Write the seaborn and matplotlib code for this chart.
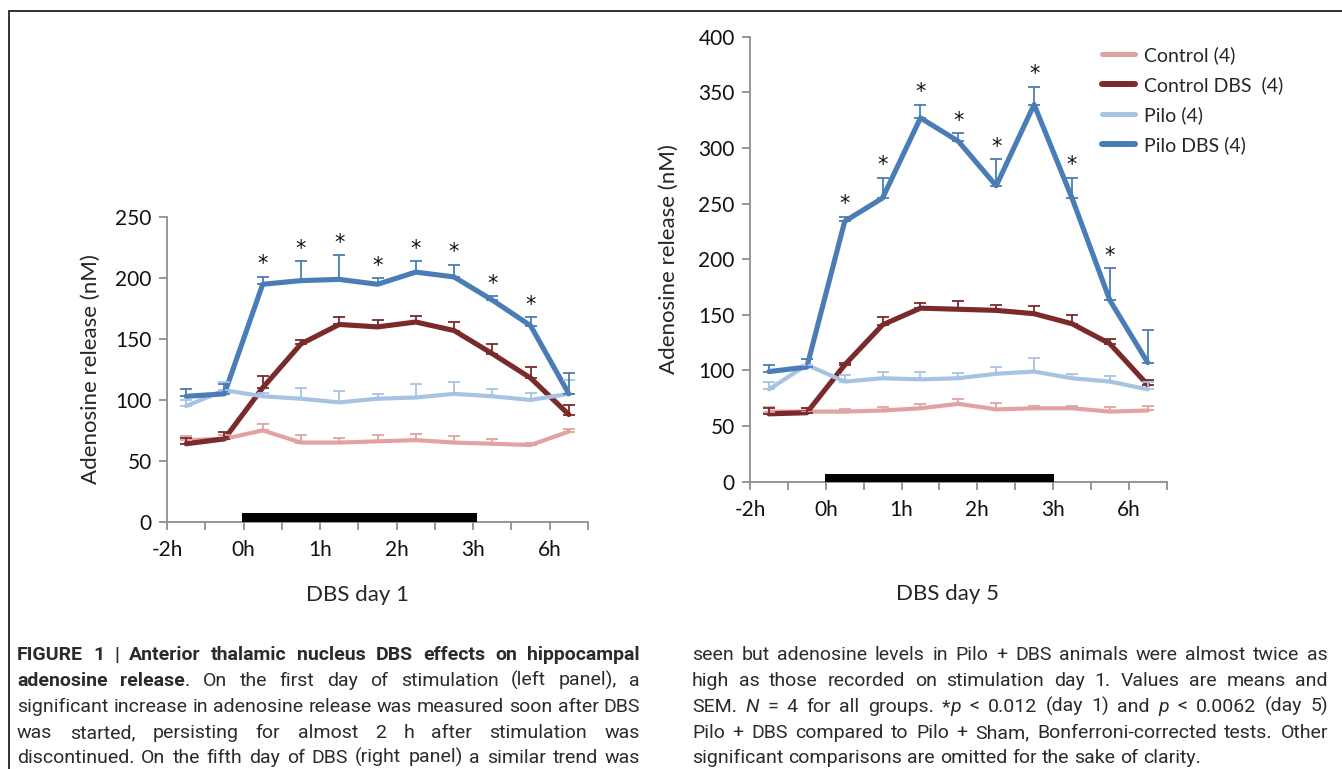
import re
import numpy as np
import pandas as pd
import matplotlib
matplotlib.use("Agg")
import matplotlib.pyplot as plt
from matplotlib.lines import Line2D
import seaborn as sns

# ---- data ----
time_labels = ["-2h", "0h", "1h", "2h", "3h", "6h"]
groups = ["Control (4)", "Control DBS  (4)", "Pilo (4)", "Pilo DBS (4)"]

day1_control = [67, 68, 75, 65, 65, 66, 67, 65, 64, 63, 74]
day1_control_sem = [3, 3, 5, 6, 4, 5, 5, 5, 4, 2, 2]
day1_control_dbs = [64, 68, 110, 146, 162, 160, 164, 157, 138, 118, 88]
day1_control_dbs_sem = [5, 6, 10, 3, 6, 6, 5, 7, 8, 9, 8]
day1_pilo = [95, 108, 103, 101, 98, 101, 102, 105, 103, 100, 105]
day1_pilo_sem = [5, 7, 3, 9, 9, 4, 11, 10, 6, 6, 11]
day1_pilo_dbs = [103, 105, 195, 198, 199, 195, 205, 201, 182, 161, 105]
day1_pilo_dbs_sem = [6, 8, 6, 16, 20, 5, 9, 10, 3, 7, 17]
day1_stars = [2, 3, 4, 5, 6, 7, 8, 9]

day5_control = [63, 63, 63, 64, 66, 70, 65, 66, 66, 63, 64]
day5_control_sem = [4, 3, 2, 3, 4, 4, 6, 2, 2, 4, 4]
day5_control_dbs = [61, 62, 105, 141, 156, 155, 154, 151, 142, 124, 87]
day5_control_dbs_sem = [5, 4, 2, 7, 5, 7, 5, 7, 8, 4, 4]
day5_pilo = [83, 105, 90, 93, 92, 93, 97, 99, 93, 90, 83]
day5_pilo_sem = [7, 5, 6, 6, 7, 5, 6, 12, 4, 5, 7]
day5_pilo_dbs = [99, 103, 234, 255, 327, 306, 266, 339, 255, 163, 107]
day5_pilo_dbs_sem = [6, 7, 4, 18, 12, 7, 24, 16, 18, 29, 29]
day5_stars = [2, 3, 4, 5, 6, 7, 8, 9]

# stimulation period bar (start, end, height in nM units)
day1_stim = (1.45, 7.6, 7)
day5_stim = (1.48, 7.52, 7)

caption_left = [
    "<b>FIGURE 1 | Anterior thalamic nucleus DBS effects on hippocampal</b>",
    "<b>adenosine release</b>. On the first day of stimulation (left panel), a",
    "significant increase in adenosine release was measured soon after DBS",
    "was started, persisting for almost 2 h after stimulation was",
    "discontinued. On the fifth day of DBS (right panel) a similar trend was",
]
caption_right = [
    "seen but adenosine levels in Pilo + DBS animals were almost twice as",
    "high as those recorded on stimulation day 1. Values are means and",
    "SEM. <i>N</i> = 4 for all groups. *<i>p</i> < 0.012 (day 1) and <i>p</i> < 0.0062 (day 5)",
    "Pilo + DBS compared to Pilo + Sham, Bonferroni-corrected tests. Other",
    "significant comparisons are omitted for the sake of clarity.",
]

# ---- style ----
W, H = 1342, 769
sns.set_style("ticks")
plt.rcParams["font.family"] = ["Lato", "DejaVu Sans"]
palette = {groups[0]: "#E3A2A2", groups[1]: "#7A2A2A",
           groups[2]: "#A7C3E4", groups[3]: "#4A7DB5"}
widths = {groups[0]: 3.0, groups[1]: 3.7, groups[2]: 3.0, groups[3]: 3.7}
axis_grey = "#8f8f8f"
cap_font = ["Roboto", "DejaVu Sans"]
cap_color = "#2b2b2b"


def draw_panel(ax, means, sems, stars, ymax, stim):
    rows = []
    for g, vals in zip(groups, means):
        for i, v in enumerate(vals):
            rows.append({"t": i, "nM": v, "group": g})
    df = pd.DataFrame(rows)
    sns.lineplot(data=df, x="t", y="nM", hue="group", size="group",
                 hue_order=groups, size_order=groups, palette=palette,
                 sizes=widths, legend=False, ax=ax,
                 solid_joinstyle="round", solid_capstyle="round")
    for g, vals, err in zip(groups, means, sems):
        x = np.arange(len(vals))
        ax.errorbar(x, vals, yerr=[np.zeros(len(err)), err], fmt="none",
                    ecolor=palette[g], elinewidth=1.3, capsize=4, capthick=1.3)
    top = np.array(means[3]) + np.array(sems[3])
    for i in stars:
        ax.annotate("*", (i, top[i]), xytext=(0, 9), textcoords="offset points",
                    ha="center", va="center", fontsize=15, color="#111",
                    family="DejaVu Sans")
    ax.fill_between([stim[0], stim[1]], 0, stim[2], color="black", lw=0, zorder=5)

    ax.set_xlim(-0.5, 10.5)
    ax.set_ylim(0, ymax)
    ax.set_yticks(np.arange(0, ymax + 1, 50))
    ticks = np.arange(-0.5, 11, 1)
    ax.set_xticks(ticks)
    ax.set_xticklabels([time_labels[k // 2] if k % 2 == 0 else "" for k in range(len(ticks))])
    ax.set_xlabel("")
    ax.set_ylabel("Adenosine release (nM)", fontsize=16)
    sns.despine(ax=ax)
    for s in ["left", "bottom"]:
        ax.spines[s].set_color(axis_grey)
        ax.spines[s].set_linewidth(1.3)
    ax.tick_params(axis="both", colors=axis_grey, labelcolor="#111",
                   labelsize=15, length=6, width=1.3, direction="out")
    ax.tick_params(axis="x", pad=7)
    ax.tick_params(axis="y", pad=5)


fig = plt.figure(figsize=(W / 100, H / 100), dpi=100)

ax1 = fig.add_axes([167 / W, 1 - 521.7 / H, (588 - 167) / W, (521.7 - 217.3) / H])
draw_panel(ax1,
           [day1_control, day1_control_dbs, day1_pilo, day1_pilo_dbs],
           [day1_control_sem, day1_control_dbs_sem, day1_pilo_sem, day1_pilo_dbs_sem],
           day1_stars, 250, day1_stim)
ax1.yaxis.set_label_coords((101 - 167) / (588 - 167), 0.5)

ax2 = fig.add_axes([750 / W, 1 - 481.7 / H, (1166.7 - 750) / W, (481.7 - 36.7) / H])
draw_panel(ax2,
           [day5_control, day5_control_dbs, day5_pilo, day5_pilo_dbs],
           [day5_control_sem, day5_control_dbs_sem, day5_pilo_sem, day5_pilo_dbs_sem],
           day5_stars, 400, day5_stim)
ax2.yaxis.set_label_coords((679 - 750) / (1166.7 - 750), 0.5)

handles = [Line2D([], [], color=palette[g], lw=widths[g] + 0.6, solid_capstyle="round") for g in groups]
fig.legend(handles, groups, loc="upper left", bbox_to_anchor=(1102 / W, 1 - 46 / H),
           frameon=False, fontsize=14, handlelength=1.7, handletextpad=0.45,
           labelspacing=0.62, borderpad=0, borderaxespad=0)

fig.text(357 / W, 1 - 595 / H, "DBS day 1", fontsize=16, ha="center", va="center")
fig.text(947 / W, 1 - 594 / H, "DBS day 5", fontsize=16, ha="center", va="center")

# frame lines
fig.add_artist(Line2D([9 / W, 1], [1 - 11 / H, 1 - 11 / H], transform=fig.transFigure,
                      color="#333333", lw=1.4))
fig.add_artist(Line2D([9 / W, 9 / W], [0, 1 - 11 / H], transform=fig.transFigure,
                      color="#333333", lw=1.4))


# ---- caption (justified lines) ----
def tokenize(line):
    words = [[]]
    for part in re.split(r"(<[bi]>.*?</[bi]>)", line):
        if not part:
            continue
        style = "r"
        if part.startswith("<b>"):
            style, part = "b", part[3:-4]
        elif part.startswith("<i>"):
            style, part = "i", part[3:-4]
        for k, chunk in enumerate(part.split(" ")):
            if k > 0:
                words.append([])
            if chunk:
                words[-1].append((chunk, style))
    return [w for w in words if w]


renderer = fig.canvas.get_renderer()


def caption_line(line, x0, x1, y, justify, size=14):
    words = tokenize(line)
    placed = []
    total = 0
    for w in words:
        segs = []
        for txt, st in w:
            t = fig.text(0, 1 - y / H, txt, fontsize=size, family=cap_font,
                         weight="bold" if st == "b" else "normal",
                         style="italic" if st == "i" else "normal",
                         color=cap_color, va="baseline", ha="left")
            wd = t.get_window_extent(renderer).width
            segs.append((t, wd))
            total += wd
        placed.append(segs)
    if justify and len(words) > 1:
        gap = (x1 - x0 - total) / (len(words) - 1)
    else:
        gap = size * 1.389 * 0.26
    x = x0
    for segs in placed:
        for t, wd in segs:
            t.set_x(x / W)
            x += wd
        x += gap


line_base = [660, 686, 712, 738, 763]
for k, line in enumerate(caption_left):
    caption_line(line, 17, 640, line_base[k], True)
for k, line in enumerate(caption_right):
    caption_line(line, 692, 1328, line_base[k], k < len(caption_right) - 1)

fig.savefig("out.png", dpi=100)
